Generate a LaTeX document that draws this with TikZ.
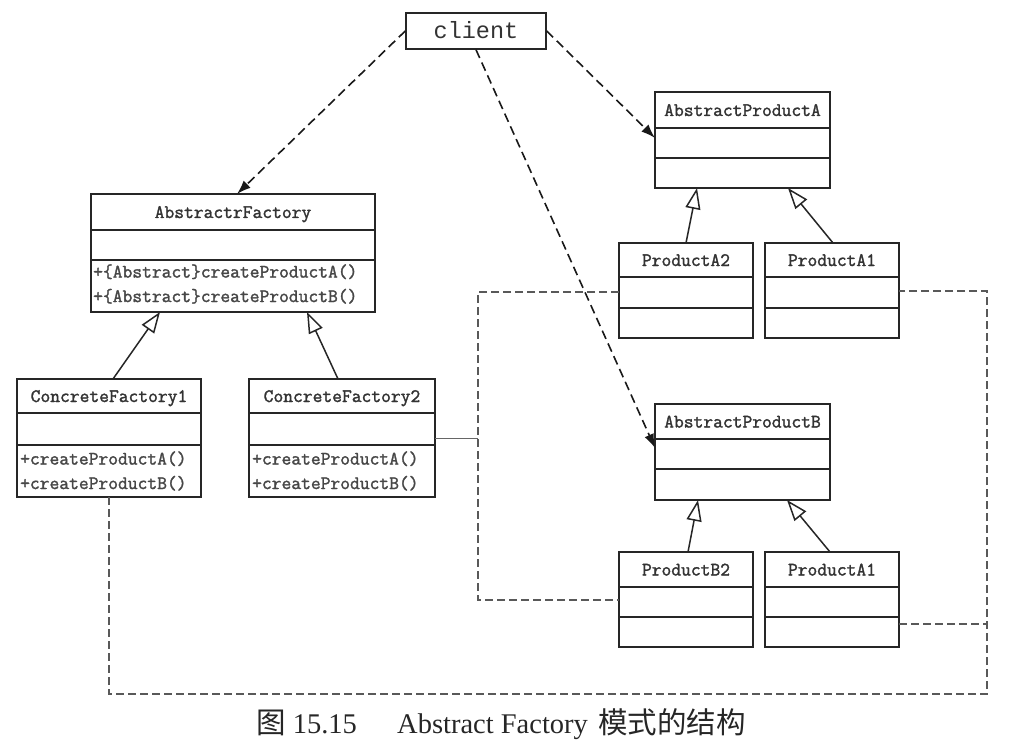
\documentclass[tikz,border=0pt]{standalone}
\usepackage{fontspec}
\setmainfont{Liberation Serif}
\newfontfamily\cjk{Noto Sans CJK SC}
\newfontfamily\clientfont{Liberation Mono}
\newfontfamily\clsfont{Latin Modern Mono}[FakeBold=1.6]
\usetikzlibrary{arrows.meta,fit}

\tikzset{
  clsbox/.style={draw=black!85, line width=1.5pt, fill=white, inner sep=0pt, outer sep=0pt},
  clsline/.style={draw=black!85, line width=1.5pt},
  clstitle/.style={font=\clsfont\fontsize{19}{24}\selectfont, inner sep=0pt, text height=12pt, text depth=0pt, text=black!80},
  clsmeth/.style={font=\clsfont\fontsize{19}{24.5}\selectfont, inner sep=0pt, align=left, anchor=west, text=black!72},
  dep/.style={line width=1.6pt, draw=black!90, dash pattern=on 9pt off 5pt, -{Latex[length=14pt,width=10pt]}},
  gen/.style={line width=1.5pt, draw=black!85, -{Triangle[open, length=21pt, width=15pt]}},
  grp/.style={line width=1.3pt, draw=black!65, dash pattern=on 8pt off 4pt},
  link/.style={line width=1pt, draw=black!60},
  captext/.style={anchor=base west, inner sep=0pt, text=black!85},
}

% #1 name, #2 x1, #3 y1, #4 x2, #5 y2, #6 divider 1, #7 divider 2, #8 title
\newcommand\umlcls[8]{%
  \node[clsbox, fit={(#2,#3)(#4,#5)}] (#1) {};
  \draw[clsline] (#2,#6) -- (#4,#6);
  \draw[clsline] (#2,#7) -- (#4,#7);
  \node[clstitle] (#1-t) at ({(#2+#4)/2},{(#3+#6)/2}) {#8};
}

\begin{document}
\begin{tikzpicture}[x=1pt,y=-1pt]
\useasboundingbox (0,0) rectangle (1014,746);

% group outline coordinates
\coordinate (g1tl) at (478,292);
\coordinate (g1bl) at (478,600);
\coordinate (g1w) at (478,438);
\coordinate (g2tr) at (987,291);
\coordinate (g2m) at (987,624);
\coordinate (g2br) at (987,694);

% classes
\umlcls{af}{91}{194}{375}{312}{230}{260}{AbstractrFactory}
\umlcls{cf1}{17}{379}{201}{497}{413}{445}{ConcreteFactory1}
\umlcls{cf2}{249}{379}{435}{497}{413}{445}{ConcreteFactory2}
\umlcls{apa}{655}{92}{830}{188}{128}{158}{AbstractProductA}
\umlcls{pa2}{619}{243}{753}{338}{277}{308}{ProductA2}
\umlcls{pa1}{765}{243}{899}{338}{277}{308}{ProductA1}
\umlcls{apb}{655}{404}{830}{500}{439}{469}{AbstractProductB}
\umlcls{pb2}{619}{552}{753}{647}{587}{617}{ProductB2}
\umlcls{pb1}{765}{552}{899}{647}{587}{617}{ProductA1}

\node[clsmeth] (af-m) at (93,284) {+\{Abstract\}createProductA()\\+\{Abstract\}createProductB()};
\node[clsmeth] (cf1-m) at (20,471) {+createProductA()\\+createProductB()};
\node[clsmeth] (cf2-m) at (252,471) {+createProductA()\\+createProductB()};

% groups
\draw[grp] (pa2.west |- g1tl) -- (g1tl) -- (g1bl) -- (pb2.west |- g1bl);
\draw[link] (cf2.east |- g1w) -- (g1w);
\draw[grp] (cf1.south) -- (cf1.south |- g2br) -- (g2br) -- (g2tr) -- (pa1.east |- g2tr);
\draw[grp] (pb1.east |- g2m) -- (g2m);

% client
\node[draw=black!85, line width=1.5pt, fill=white, minimum width=140pt, minimum height=36pt, inner sep=0pt,
      font=\clientfont\fontsize{23.5}{28}\selectfont, text height=15pt, text depth=0pt, text=black!80] (client) at (476,31) {client};

% dependencies
\draw[dep] (client.west) -- ([xshift=4pt]af.north);
\draw[dep] (client.east) -- ([yshift=2pt]apa.west);
\draw[dep] (client.south) -- ([yshift=4pt]apb.west);

% generalizations
\draw[gen] ([xshift=4pt]cf1.north) -- ([xshift=-73pt]af.south);
\draw[gen] ([xshift=-4pt]cf2.north) -- ([xshift=74pt]af.south);
\draw[gen] (pa2.north) -- ([xshift=-45.5pt]apa.south);
\draw[gen] ([xshift=1pt]pa1.north) -- ([xshift=45.5pt]apa.south);
\draw[gen] ([xshift=2pt]pb2.north) -- ([xshift=-44.5pt]apb.south);
\draw[gen] ([xshift=-2pt]pb1.north) -- ([xshift=44.5pt]apb.south);

% caption
\node[captext, font=\fontsize{28.5}{34}\selectfont] (cap1) at (256,733) {{\cjk\fontsize{29.5}{34}\selectfont 图} 15.15};
\node[captext, font=\fontsize{28.5}{34}\selectfont] (cap2) at (397,733) {Abstract Factory};
\node[captext, font=\cjk\fontsize{29.5}{34}\selectfont] (cap3) at (598,733) {模式的结构};
\end{tikzpicture}
\end{document}
